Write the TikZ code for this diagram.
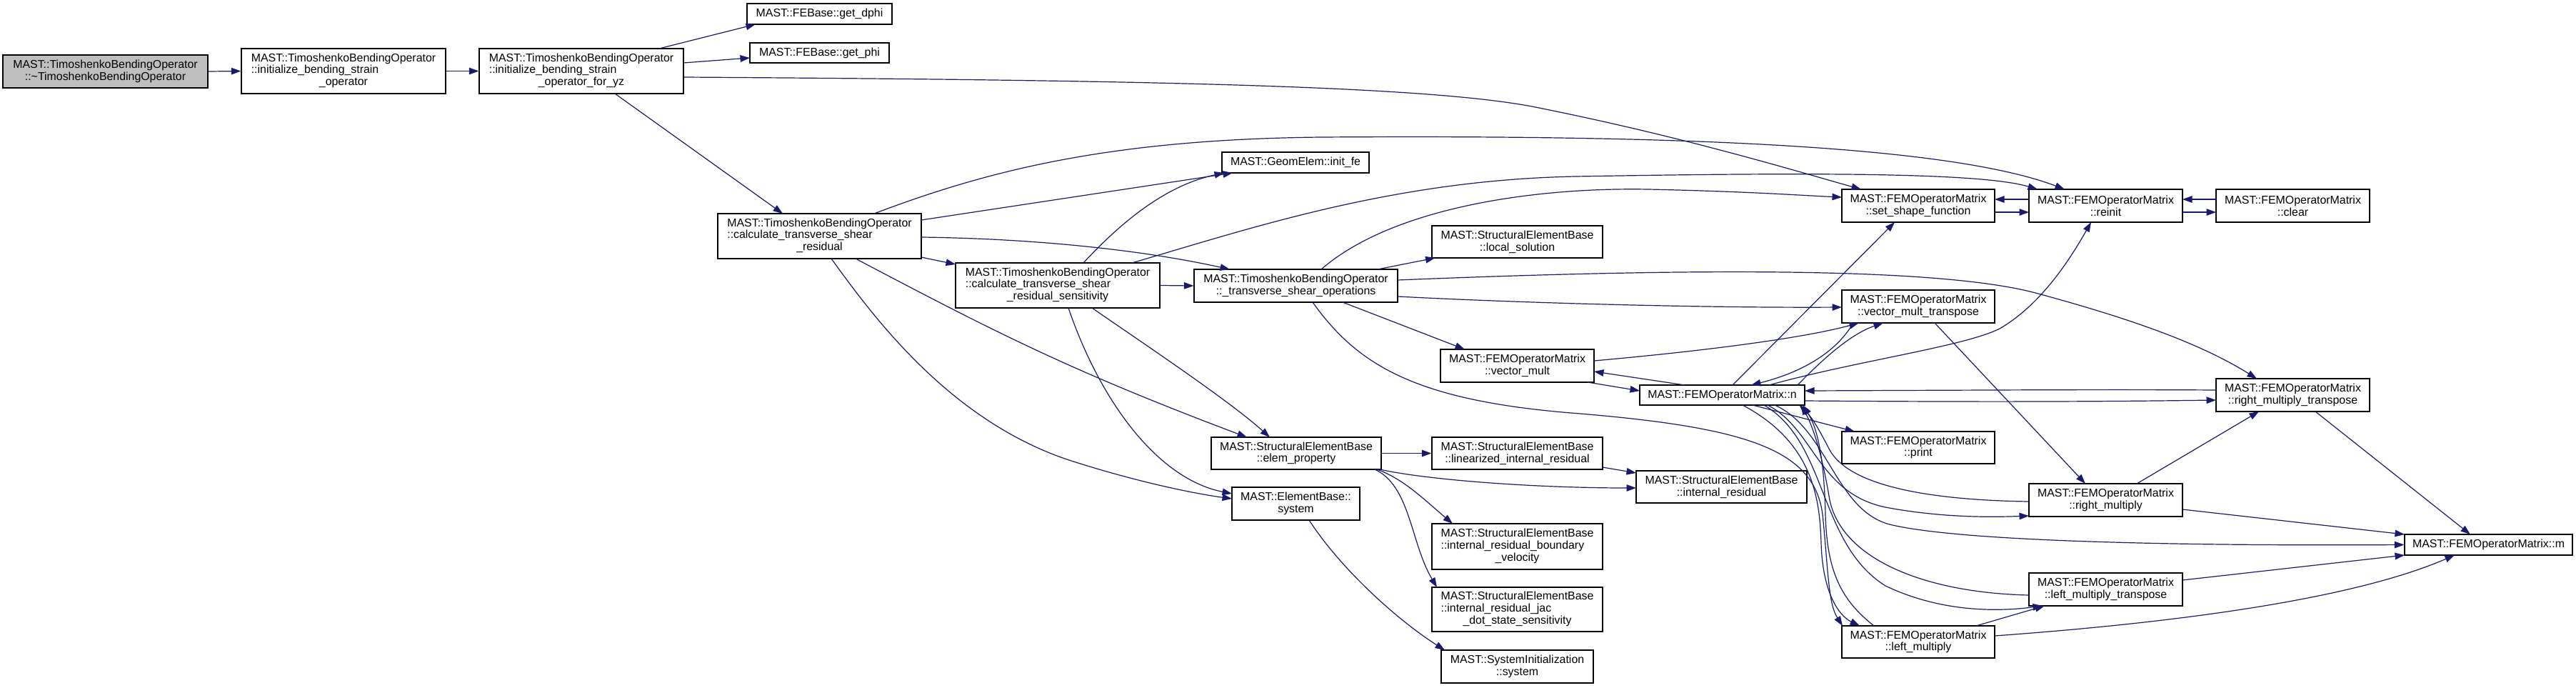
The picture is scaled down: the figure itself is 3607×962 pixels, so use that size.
\documentclass[tikz,border=0pt]{standalone}
\usepackage{fontspec}
\setmainfont{Liberation Sans}
\usetikzlibrary{arrows.meta,calc}
\definecolor{edgeblue}{HTML}{191970}
\definecolor{startgray}{HTML}{BFBFBF}
\newcommand{\threeL}[3]{\begin{tabular}{@{}l@{}}#1\\#2\\\multicolumn{1}{@{}c@{}}{#3}\end{tabular}}
\begin{document}
\begin{tikzpicture}[x=1pt,y=-1pt,
  box/.style={draw=black, line width=1.2pt, fill=white, inner sep=0pt, align=center,
    font=\fontsize{15.9}{16.7}\selectfont},
  conn/.style={draw=edgeblue, line width=1.2pt, -{Triangle[length=13.5pt,width=9.5pt]}}]
\fill[white] (0,0) rectangle (3607,962);
\useasboundingbox (0,0) rectangle (3607,962);
% nodes
\node[box, fill=startgray, minimum width=287pt, minimum height=46pt] (n0) at (147.5,100) {MAST::TimoshenkoBendingOperator\\::\textasciitilde TimoshenkoBendingOperator};
\node[box, minimum width=286pt, minimum height=63pt] (n1) at (481,99.5) {\threeL{MAST::TimoshenkoBendingOperator}{::initialize\_bending\_strain}{\_operator}};
\node[box, minimum width=286pt, minimum height=63pt] (n2) at (814,99.5) {\threeL{MAST::TimoshenkoBendingOperator}{::initialize\_bending\_strain}{\_operator\_for\_yz}};
\node[box, minimum width=203pt, minimum height=29pt] (dphi) at (1147.5,19.5) {MAST::FEBase::get\_dphi};
\node[box, minimum width=195pt, minimum height=28pt] (phi) at (1147.5,74) {MAST::FEBase::get\_phi};
\node[box, minimum width=206pt, minimum height=29pt] (initfe) at (1814,227.5) {MAST::GeomElem::init\_fe};
\node[box, minimum width=285pt, minimum height=63pt] (cres) at (1147.5,330.5) {\threeL{MAST::TimoshenkoBendingOperator}{::calculate\_transverse\_shear}{\_residual}};
\node[box, minimum width=286pt, minimum height=63pt] (csens) at (1481,399.5) {\threeL{MAST::TimoshenkoBendingOperator}{::calculate\_transverse\_shear}{\_residual\_sensitivity}};
\node[box, minimum width=285pt, minimum height=46pt] (tso) at (1814.5,400) {MAST::TimoshenkoBendingOperator\\::\_transverse\_shear\_operations};
\node[box, minimum width=239pt, minimum height=45pt] (locsol) at (2124.5,338.5) {MAST::StructuralElementBase\\::local\_solution};
\node[box, minimum width=214pt, minimum height=46pt] (setshape) at (2686,288) {MAST::FEMOperatorMatrix\\::set\_shape\_function};
\node[box, minimum width=215pt, minimum height=46pt] (reinit) at (2948.5,288) {MAST::FEMOperatorMatrix\\::reinit};
\node[box, minimum width=215pt, minimum height=46pt] (clear) at (3210.5,288) {MAST::FEMOperatorMatrix\\::clear};
\node[box, minimum width=214pt, minimum height=46pt] (vmt) at (2686,429) {MAST::FEMOperatorMatrix\\::vector\_mult\_transpose};
\node[box, minimum width=215pt, minimum height=46pt] (vm) at (2124.5,512) {MAST::FEMOperatorMatrix\\::vector\_mult};
\node[box, minimum width=231pt, minimum height=28pt] (nn) at (2411.5,553) {MAST::FEMOperatorMatrix::n};
\node[box, minimum width=215pt, minimum height=46pt] (rmt) at (3210.5,553) {MAST::FEMOperatorMatrix\\::right\_multiply\_transpose};
\node[box, minimum width=214pt, minimum height=45pt] (print) at (2686,626.5) {MAST::FEMOperatorMatrix\\::print};
\node[box, minimum width=215pt, minimum height=46pt] (rm) at (2948.5,700) {MAST::FEMOperatorMatrix\\::right\_multiply};
\node[box, minimum width=235pt, minimum height=29pt] (m) at (3484.5,762.5) {MAST::FEMOperatorMatrix::m};
\node[box, minimum width=215pt, minimum height=46pt] (lmt) at (2948.5,825) {MAST::FEMOperatorMatrix\\::left\_multiply\_transpose};
\node[box, minimum width=214pt, minimum height=45pt] (lm) at (2686,898.5) {MAST::FEMOperatorMatrix\\::left\_multiply};
\node[box, minimum width=238pt, minimum height=45pt] (ep) at (1815,634.5) {MAST::StructuralElementBase\\::elem\_property};
\node[box, minimum width=179pt, minimum height=46pt] (ebs) at (1814.5,705) {MAST::ElementBase::\\system};
\node[box, minimum width=239pt, minimum height=45pt] (lir) at (2124.5,634.5) {MAST::StructuralElementBase\\::linearized\_internal\_residual};
\node[box, minimum width=239pt, minimum height=45pt] (ir) at (2410.5,681.5) {MAST::StructuralElementBase\\::internal\_residual};
\node[box, minimum width=239pt, minimum height=64pt] (irbv) at (2124.5,765) {\threeL{MAST::StructuralElementBase}{::internal\_residual\_boundary}{\_velocity}};
\node[box, minimum width=239pt, minimum height=62pt] (irjac) at (2124.5,853) {\threeL{MAST::StructuralElementBase}{::internal\_residual\_jac}{\_dot\_state\_sensitivity}};
\node[box, minimum width=213pt, minimum height=46pt] (sysinit) at (2124.5,933) {MAST::SystemInitialization\\::system};
% connectors
\draw[conn] (n0.east) -- (n1.west);
\draw[conn] (n1.east) -- (n2.west);
\draw[conn] ($(n2)+(109,-31.5)$) -- ($(dphi)+(-89.5,14.5)$);
\draw[conn] ($(n2)+(143,-11.5)$) -- ($(phi)+(-97.5,7)$);
\draw[conn] ($(n2)+(143,8.5)$) .. controls (1600,112) and (2000,120) .. (2150,150) .. controls (2350,190) and (2500,235) .. ($(setshape)+(-80,-23)$);
\draw[conn] ($(n2)+(47,31.5)$) -- ($(cres)+(-51.5,-31.5)$);
\draw[conn] ($(cres)+(142.5,-22.5)$) -- ($(initfe)+(-88,14.5)$);
\draw[conn] ($(cres)+(76.5,-31.5)$) .. controls (1380,240) and (1550,195) .. (1850,192) .. controls (2300,189) and (2720,200) .. ($(reinit)+(-57.5,-23)$);
\draw[conn] ($(cres)+(142.5,1.5)$) .. controls (1450,334) and (1600,350) .. ($(tso)+(-92.5,-23)$);
\draw[conn] ($(cres)+(142.5,29.5)$) -- ($(csens)+(-143,-29.5)$);
\draw[conn] ($(cres)+(50.5,31.5)$) .. controls (1388,462) and (1496,518) .. ($(ep)+(-69,-22.5)$);
\draw[conn] ($(cres)+(16.5,31.5)$) .. controls (1222,442) and (1330,590) .. (1500,645) .. controls (1600,677) and (1680,692) .. ($(ebs)+(-89.5,-7)$);
\draw[conn] ($(csens)+(36,-31.5)$) .. controls (1580,300) and (1640,258) .. ($(initfe)+(-100,14.5)$);
\draw[conn] ($(csens)+(104,-31.5)$) .. controls (1750,320) and (1950,252) .. (2206,247) .. controls (2500,242) and (2770,240) .. ($(reinit)+(-95.5,-23)$);
\draw[conn] (csens.east) -- (tso.west);
\draw[conn] ($(csens)+(48,31.5)$) .. controls (1600,480) and (1720,560) .. ($(ep)+(-37,-22.5)$);
\draw[conn] ($(csens)+(15,31.5)$) .. controls (1540,560) and (1620,670) .. ($(ebs)+(-89.5,-14)$);
\draw[conn] ($(tso)+(114.5,-23)$) -- ($(locsol)+(-115,22.5)$);
\draw[conn] ($(tso)+(35.5,-23)$) .. controls (1950,290) and (2150,262) .. (2308,265) .. controls (2450,268) and (2530,274) .. ($(setshape)+(-107,-12)$);
\draw[conn] ($(tso)+(142.5,-8)$) .. controls (2300,378) and (2700,370) .. (2850,410) .. controls (2980,445) and (3080,480) .. ($(rmt)+(-50.5,-23)$);
\draw[conn] ($(tso)+(142.5,15)$) .. controls (2150,425) and (2400,431) .. ($(vmt)+(-107,1)$);
\draw[conn] ($(tso)+(65.5,23)$) -- ($(vm)+(-73.5,-23)$);
\draw[conn] ($(tso)+(23.5,23)$) .. controls (1900,510) and (1980,560) .. (2200,578) .. controls (2450,598) and (2540,630) .. (2552,720) .. controls (2560,800) and (2560,845) .. ($(lm)+(-106,-22.5)$);
\draw[conn] ($(setshape)+(107,9)$) -- ($(reinit)+(-107.5,9)$);
\draw[conn] ($(reinit)+(-107.5,-9)$) -- ($(setshape)+(107,-9)$);
\draw[conn] ($(reinit)+(107.5,9)$) -- ($(clear)+(-107.5,9)$);
\draw[conn] ($(clear)+(-107.5,-9)$) -- ($(reinit)+(107.5,-9)$);
\draw[conn] ($(vm)+(107.5,-7)$) .. controls (2400,490) and (2530,472) .. ($(vmt)+(-83,23)$);
\draw[conn] ($(vm)+(98.5,23)$) -- ($(nn)+(-115.5,-6)$);
\draw[conn] ($(nn)+(-52.5,-14)$) -- ($(vm)+(107.5,8)$);
\draw[conn] ($(nn)+(105.5,-14)$) .. controls (2550,505) and (2590,468) .. ($(vmt)+(-49,23)$);
\draw[conn] ($(vmt)+(-91,23)$) .. controls (2570,495) and (2520,522) .. ($(nn)+(40.5,-14)$);
\draw[conn] ($(nn)+(14.5,-14)$) -- ($(setshape)+(-33,23)$);
\draw[conn] ($(nn)+(65.5,-14)$) .. controls (2600,505) and (2750,485) .. (2800,460) .. controls (2860,425) and (2900,360) .. ($(reinit)+(-20.5,23)$);
\draw[conn] ($(nn)+(115.5,8)$) .. controls (2800,563) and (2950,562) .. ($(rmt)+(-107.5,7)$);
\draw[conn] ($(rmt)+(-107.5,-7)$) .. controls (2950,545) and (2800,546) .. ($(nn)+(115.5,-6)$);
\draw[conn] ($(nn)+(42.5,14)$) -- ($(print)+(-89,-22.5)$);
\draw[conn] ($(nn)+(63.5,14)$) .. controls (2540,600) and (2545,690) .. (2640,710) .. controls (2720,725) and (2790,724) .. ($(rm)+(-107.5,22)$);
\draw[conn] ($(rm)+(-107.5,2)$) .. controls (2700,700) and (2590,680) .. (2562,630) .. controls (2548,603) and (2538,585) .. ($(nn)+(108,14)$);
\draw[conn] ($(nn)+(73.5,14)$) .. controls (2560,600) and (2570,718) .. (2650,735) .. controls (2760,760) and (3100,764) .. (m.west);
\draw[conn] ($(nn)+(58.5,14)$) .. controls (2560,620) and (2545,760) .. (2640,820) .. controls (2720,858) and (2800,856) .. ($(lmt)+(-88.5,23)$);
\draw[conn] ($(lmt)+(-107.5,8)$) .. controls (2700,830) and (2580,785) .. (2562,700) .. controls (2552,640) and (2540,600) .. ($(nn)+(110.5,14)$);
\draw[conn] ($(nn)+(28.5,14)$) .. controls (2540,620) and (2548,700) .. (2550,760) .. controls (2552,830) and (2575,862) .. ($(lm)+(-82,-22.5)$);
\draw[conn] ($(lm)+(-62,-22.5)$) .. controls (2578,840) and (2558,800) .. (2556,720) .. controls (2554,640) and (2545,600) .. ($(nn)+(113,14)$);
\draw[conn] ($(vmt)+(23,23)$) -- ($(rm)+(-28.5,-23)$);
\draw[conn] ($(rm)+(43.5,-23)$) -- ($(rmt)+(-47.5,23)$);
\draw[conn] ($(rm)+(107.5,13)$) -- ($(m)+(-117.5,-14.5)$);
\draw[conn] ($(rmt)+(31.5,23)$) -- ($(m)+(-25.5,-14.5)$);
\draw[conn] ($(lm)+(81,-22.5)$) -- ($(lmt)+(-85.5,23)$);
\draw[conn] ($(lmt)+(107.5,-13)$) -- ($(m)+(-117.5,14.5)$);
\draw[conn] ($(lm)+(107,-8.5)$) .. controls (3000,875) and (3280,845) .. ($(m)+(-47.5,14.5)$);
\draw[conn] (ep.east) -- (lir.west);
\draw[conn] ($(ep)+(117,22.5)$) .. controls (2000,672) and (2150,683) .. ($(ir)+(-119.5,1.5)$);
\draw[conn] ($(ep)+(113,22.5)$) .. controls (1965,670) and (1995,700) .. ($(irbv)+(-90.5,-32)$);
\draw[conn] ($(ep)+(110,22.5)$) .. controls (1975,680) and (1975,760) .. ($(irjac)+(-112.5,-31)$);
\draw[conn] ($(lir)+(119.5,19.5)$) -- ($(ir)+(-119.5,-19.5)$);
\draw[conn] ($(ebs)+(18.5,23)$) .. controls (1880,800) and (1960,870) .. ($(sysinit)+(-101.5,-23)$);
\end{tikzpicture}
\end{document}
